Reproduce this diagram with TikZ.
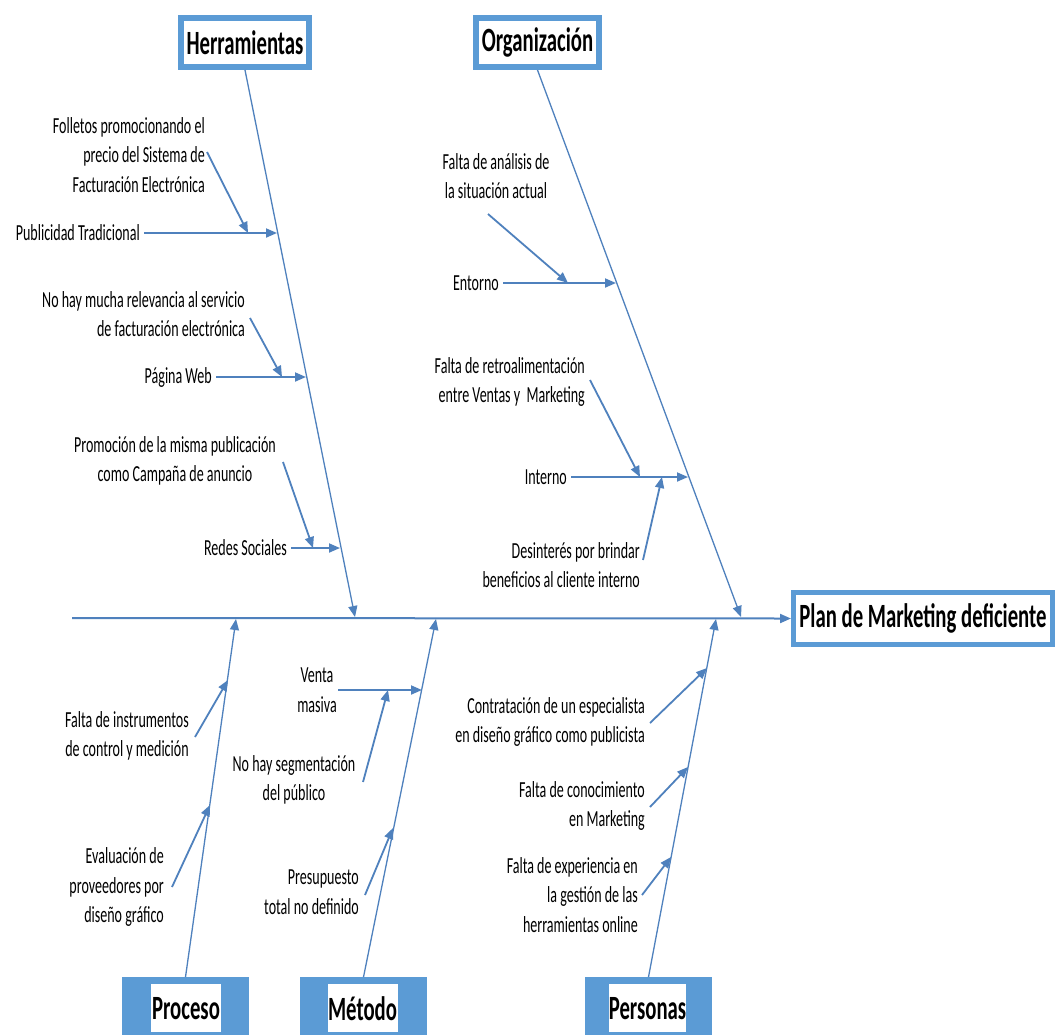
\documentclass[tikz,border=0pt]{standalone}
\usepackage{fontspec}
\setmainfont{Carlito}[FakeStretch=0.61]
\usetikzlibrary{arrows.meta}
\definecolor{boneblue}{RGB}{79,129,189}
\definecolor{boxblue}{RGB}{91,155,213}

\begin{document}
\begin{tikzpicture}[x=1pt,y=-1pt,
  lbl/.style={inner sep=0pt, font=\fontsize{23}{29.5}\selectfont, text=black},
  lblr/.style={lbl, align=right, anchor=east},
  lblc/.style={lbl, align=center},
  head/.style={inner sep=0pt, font=\bfseries\fontsize{34}{40}\selectfont, text=black},
  topbox/.style={head, draw=boxblue, line width=6pt, fill=white, minimum width=128, minimum height=49},
  effbox/.style={head, draw=boxblue, line width=5pt, fill=white, minimum width=259, minimum height=52},
  basebox/.style={fill=boxblue, minimum width=127, minimum height=62, anchor=north, inner sep=0pt},
  basetext/.style={head, fill=white, minimum width=70, minimum height=48, anchor=north},
  tip/.style={-{Triangle[length=11pt,width=9pt]}},
  spine/.style={draw=boneblue, line width=2pt, tip},
  bone/.style={draw=boneblue, line width=1.3pt, tip},
  sub/.style={draw=boneblue, line width=1.8pt, tip}
]
\useasboundingbox (0,0) rectangle (1057,1034);
\fill[white] (0,0) rectangle (1057,1034);

% ---- category boxes and the effect ----
\node[topbox] (herr) at (245,42.5) {Herramientas};
\node[topbox, minimum width=123] (org) at (537.5,42.5) {Organización};
\node[effbox] (efecto) at (923,618.5) {Plan de Marketing deficiente};

\node[basebox] (proc) at (185.5,977) {};
\node[basetext] (procT) at (186,984) {Proceso};
\node[basebox] (met) at (363.5,977) {};
\node[basetext] (metT) at (362.5,984) {Método};
\node[basebox] (pers) at (648.5,977) {};
\node[basetext] (persT) at (647.5,984) {Personas};

% ---- spine ----
\coordinate (tail) at (72,618);
\draw[spine] (tail) -- (efecto.west);

% ---- main bones ----
\coordinate (hT) at (355,617);
\coordinate (oT) at (741,617);
\coordinate (pT) at (236,619);
\coordinate (mT) at (436,619);
\coordinate (peT) at (716,619);
\draw[bone] (herr.south) -- (hT);
\draw[bone] (org.south) -- (oT);
\draw[bone] (proc.north) -- (pT);
\draw[bone] (met.north) -- (mT);
\draw[bone] (pers.north) -- (peT);

% ---- Herramientas ----
\node[lblr] (folletos) at (205,155) {Folletos promocionando el\\precio del Sistema de\\Facturación Electrónica};
\node[lblr] (publicidad) at (140,233) {Publicidad Tradicional};
\node[lblr] (norel) at (245,314) {No hay mucha relevancia al servicio\\de facturación electrónica};
\node[lblr] (web) at (212,377) {Página Web};
\node[lblc] (promo) at (175,461) {Promoción de la misma publicación\\como Campaña de anuncio};
\node[lblr] (redes) at (287,548) {Redes Sociales};

\coordinate (hb1) at (277,233);
\coordinate (hb2) at (306,377);
\coordinate (hb3) at (340,548);
\coordinate (hf1) at (248,233);
\coordinate (hf2) at (282,377);
\coordinate (hf3) at (313,548);
\coordinate (fs1) at (207,152);
\coordinate (fs2) at (250,318);
\coordinate (fs3) at (283,462);

\draw[sub] ([xshift=4pt]publicidad.east) -- (hb1);
\draw[sub] ([xshift=4pt]web.east) -- (hb2);
\draw[sub] ([xshift=4pt]redes.east) -- (hb3);
\draw[sub] (fs1) -- (hf1);
\draw[sub] (fs2) -- (hf2);
\draw[sub] (fs3) -- (hf3);

% ---- Organización ----
\node[lblc] (analisis) at (496,176) {Falta de análisis de\\la situación actual};
\node[lblr] (entorno) at (499,283) {Entorno};
\node[lblr] (retro) at (585,382) {Falta de retroalimentación\\entre Ventas y\ \ Marketing};
\node[lblr] (interno) at (567,477) {Interno};
\node[lblr] (desint) at (640,565) {Desinterés por brindar\\beneficios al cliente interno};

\coordinate (ob1) at (616,283);
\coordinate (ob2) at (688,477);
\coordinate (of1) at (568,283);
\coordinate (of2) at (640,477);
\coordinate (of3) at (662,477);
\coordinate (os1) at (488,214);
\coordinate (os2) at (590,380);
\coordinate (os3) at (643,560);

\draw[sub] ([xshift=4pt]entorno.east) -- (ob1);
\draw[sub] ([xshift=4pt]interno.east) -- (ob2);
\draw[sub] (os1) -- (of1);
\draw[sub] (os2) -- (of2);
\draw[sub] (os3) -- (of3);

% ---- Proceso ----
\node[lblc] (instr) at (127,736) {Falta de instrumentos\\de control y medición};
\node[lblr] (evalua) at (164,887) {Evaluación de\\proveedores por\\diseño gráfico};

\coordinate (pb1) at (228,680);
\coordinate (pb2) at (210,805);
\coordinate (ps1) at (195,737);
\coordinate (ps2) at (172,887);
\draw[sub] (ps1) -- (pb1);
\draw[sub] (ps2) -- (pb2);

% ---- Método ----
\node[lblc] (venta) at (317,690) {Venta\\masiva};
\node[lblc] (segm) at (294,780) {No hay segmentación\\del público};
\node[lblr] (presup) at (359,892) {Presupuesto\\total no definido};

\coordinate (mb1) at (422,690);
\coordinate (mb2) at (393,828);
\coordinate (mf1) at (388,690);
\coordinate (ms1) at (338,690);
\coordinate (ms2) at (363,782);
\coordinate (ms3) at (365,895);
\draw[sub] (ms1) -- (mb1);
\draw[sub] (ms2) -- (mf1);
\draw[sub] (ms3) -- (mb2);

% ---- Personas ----
\node[lblr] (contrat) at (645,722) {Contratación de un especialista\\en diseño gráfico como publicista};
\node[lblr] (conoc) at (645,806) {Falta de conocimiento\\en Marketing};
\node[lblr] (exper) at (638,895) {Falta de experiencia en\\la gestión de las\\herramientas online};

\coordinate (eb1) at (707,668);
\coordinate (eb2) at (688,767);
\coordinate (eb3) at (671,857);
\coordinate (es1) at (650,723);
\coordinate (es2) at (650,807);
\coordinate (es3) at (642,895);
\draw[sub] (es1) -- (eb1);
\draw[sub] (es2) -- (eb2);
\draw[sub] (es3) -- (eb3);
\end{tikzpicture}
\end{document}
